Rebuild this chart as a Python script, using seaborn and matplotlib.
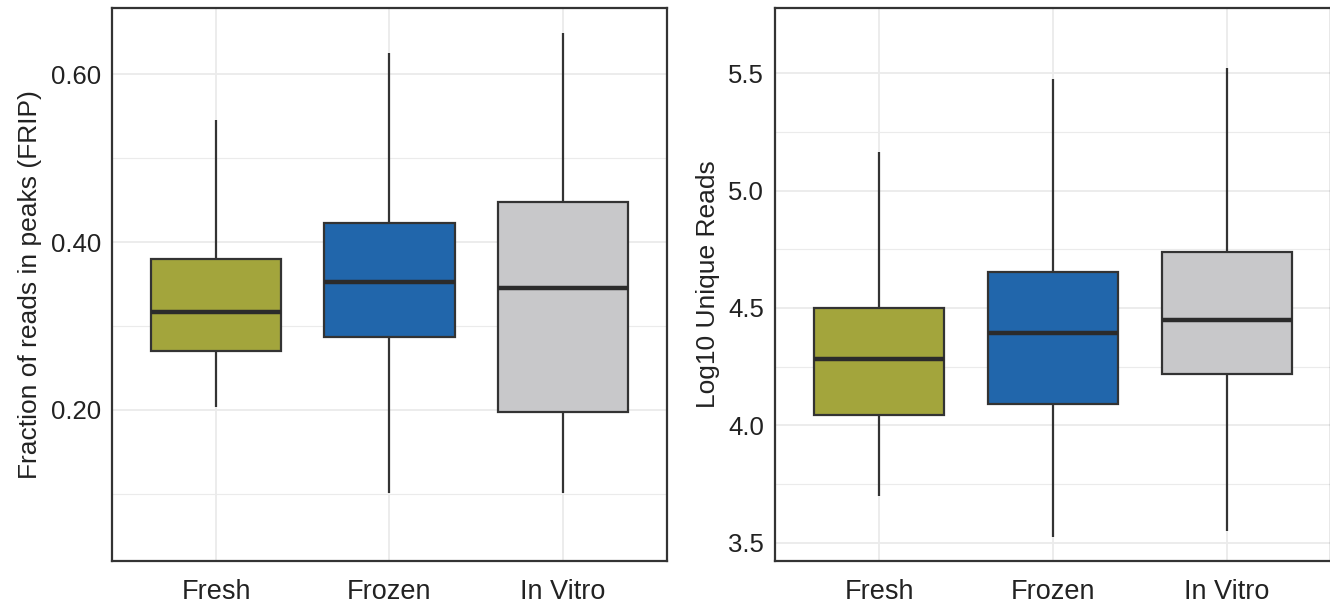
import numpy as np
import pandas as pd
import matplotlib
matplotlib.use("Agg")
import matplotlib.pyplot as plt
import seaborn as sns

# categories and five-number summaries
groups = ["Fresh", "Frozen", "In Vitro"]
colors = ["#A3A53C", "#2166AB", "#C8C8CA"]

# [min, Q1, median, Q3, max]
frip_fresh = [0.204, 0.270, 0.317, 0.380, 0.545]
frip_frozen = [0.101, 0.287, 0.352, 0.423, 0.625]
frip_vitro = [0.101, 0.198, 0.345, 0.448, 0.649]

reads_fresh = [3.70, 4.043, 4.283, 4.50, 5.162]
reads_frozen = [3.524, 4.09, 4.393, 4.653, 5.474]
reads_vitro = [3.549, 4.217, 4.45, 4.74, 5.52]


def make_frame(values, name):
    rows = []
    for g, vals in zip(groups, values):
        for v in vals:
            rows.append({"group": g, name: v})
    return pd.DataFrame(rows)


frip_df = make_frame([frip_fresh, frip_frozen, frip_vitro], "frip")
reads_df = make_frame([reads_fresh, reads_frozen, reads_vitro], "reads")

sns.set_theme(style="whitegrid")
plt.rcParams["font.family"] = ["Liberation Sans", "DejaVu Sans"]

fig = plt.figure(figsize=(13.3, 6.06), dpi=100)
ax1 = fig.add_axes([0.0842, 0.0743, 0.4173, 0.9125])
ax2 = fig.add_axes([0.5827, 0.0743, 0.4180, 0.9125])

edge = "#333333"


def draw(ax, df, col, ylim, major, minor, fmt, ylabel):
    sns.boxplot(data=df, x="group", y=col, hue="group", palette=colors,
                order=groups, hue_order=groups, legend=False, saturation=1,
                whis=(0, 100), width=0.75, linewidth=1.6, linecolor=edge,
                showcaps=False, medianprops={"linewidth": 3.2, "color": "#2b2b2b"},
                ax=ax)
    ax.set_xlim(-0.6, 2.6)
    ax.set_ylim(*ylim)
    ax.set_yticks(major)
    ax.set_yticks(minor, minor=True)
    ax.set_yticklabels([fmt.format(v) for v in major])
    ax.grid(True, which="major", color="#EBEBEB", linewidth=1.3)
    ax.grid(True, which="minor", axis="y", color="#EBEBEB", linewidth=0.8)
    ax.set_axisbelow(True)
    ax.set_xlabel("")
    ax.set_ylabel(ylabel, fontsize=19, color="#222222", labelpad=6)
    ax.tick_params(axis="y", labelsize=18.5, colors="#222222", length=0, pad=8)
    ax.tick_params(axis="x", labelsize=19.5, colors="#222222", length=0, pad=13)
    for s in ax.spines.values():
        s.set_visible(True)
        s.set_color(edge)
        s.set_linewidth(1.6)


draw(ax1, frip_df, "frip", (0.020, 0.679), [0.2, 0.4, 0.6], [0.1, 0.3, 0.5],
     "{:.2f}", "Fraction of reads in peaks (FRIP)")
draw(ax2, reads_df, "reads", (3.423, 5.777), [3.5, 4.0, 4.5, 5.0, 5.5],
     [3.75, 4.25, 4.75, 5.25], "{:.1f}", "Log10 Unique Reads")

fig.savefig("out.png", dpi=100, facecolor="white")
